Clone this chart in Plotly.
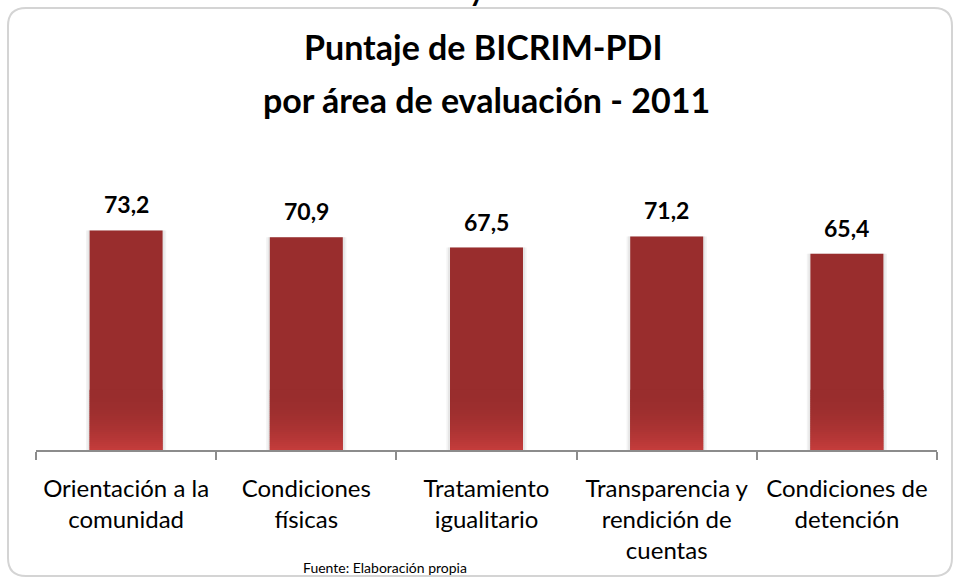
import plotly.graph_objects as go

categories = [
    "Orientación a la<br>comunidad",
    "Condiciones<br>físicas",
    "Tratamiento<br>igualitario",
    "Transparencia y<br>rendición de<br>cuentas",
    "Condiciones de<br>detención",
]
scores = [73.2, 70.9, 67.5, 71.2, 65.4]
title_lines = ["Puntaje de BICRIM-PDI", "por área de evaluación - 2011"]
source_text = "Fuente: Elaboración propia"

W, H = 955, 578
ML, MR, MT, MB = 36, 18, 150, 128
PW, PH = W - ML - MR, H - MT - MB

def px_x(p):
    return (p - ML) / PW

def px_y(p):
    return (H - MB - p) / PH

BAR_W = 0.405
FONT = "Lato"

fig = go.Figure()

# soft shadow layers
for extra, col in [(0.040, "#f3f3f3"), (0.022, "#e6e6e6")]:
    fig.add_trace(go.Bar(x=categories, y=scores, width=BAR_W + extra,
                         marker=dict(color=col, line=dict(width=0)),
                         hoverinfo="skip", showlegend=False))

# main bars
fig.add_trace(go.Bar(x=categories, y=scores, width=BAR_W,
                     marker=dict(color="#992D2D", line=dict(width=0)),
                     showlegend=False))

# gradient band near the base
def lerp(c1, c2, t):
    a = [int(c1[i:i + 2], 16) for i in (1, 3, 5)]
    b = [int(c2[i:i + 2], 16) for i in (1, 3, 5)]
    return "#" + "".join(f"{round(a[k] + (b[k] - a[k]) * t):02x}" for k in range(3))

n_steps = 30
band = 20.0
step = band / n_steps
for i in range(n_steps):
    s = i / (n_steps - 1)
    t = 1 - (1 - s) ** 2
    col = lerp("#C43C3B", "#992D2D", t)
    fig.add_trace(go.Bar(x=categories, y=[step + 0.06] * len(categories),
                         base=[i * step] * len(categories), width=BAR_W,
                         marker=dict(color=col, line=dict(width=0)),
                         hoverinfo="skip", showlegend=False))

# value labels
for c, v in zip(categories, scores):
    fig.add_annotation(x=c, y=v, text=f"<b>{v:.1f}</b>".replace(".", ","),
                       showarrow=False, yanchor="bottom", yshift=10,
                       font=dict(family=FONT, size=23, color="#000000"))

# title
fig.add_annotation(x=px_x(483), y=px_y(46), xref="paper", yref="paper",
                   text=f"<b>{title_lines[0]}</b>", showarrow=False,
                   xanchor="center", yanchor="middle",
                   font=dict(family=FONT, size=34, color="#000000"))
fig.add_annotation(x=px_x(486), y=px_y(100), xref="paper", yref="paper",
                   text=f"<b>{title_lines[1]}</b>", showarrow=False,
                   xanchor="center", yanchor="middle",
                   font=dict(family=FONT, size=34, color="#000000"))

# source
fig.add_annotation(x=px_x(385), y=px_y(567), xref="paper", yref="paper",
                   text=source_text, showarrow=False,
                   xanchor="center", yanchor="middle",
                   font=dict(family=FONT, size=14, color="#000000"))

# clipped glyph at the very top (only its tail shows)
fig.add_annotation(x=px_x(477), y=px_y(9), xref="paper", yref="paper",
                   text="<b>y</b>", showarrow=False,
                   xanchor="center", yanchor="bottom",
                   font=dict(family=FONT, size=30, color="#000000"))

# rounded frame
x0, y0, x1, y1, r = px_x(8), px_y(8), px_x(952), px_y(576), 18
rx, ry = r / PW, r / PH
path = (f"M {x0 + rx} {y0} L {x1 - rx} {y0} Q {x1} {y0} {x1} {y0 - ry} "
        f"L {x1} {y1 + ry} Q {x1} {y1} {x1 - rx} {y1} "
        f"L {x0 + rx} {y1} Q {x0} {y1} {x0} {y1 + ry} "
        f"L {x0} {y0 - ry} Q {x0} {y0} {x0 + rx} {y0} Z")
fig.add_shape(type="path", path=path, xref="paper", yref="paper",
              line=dict(color="#d4d4d4", width=2), fillcolor="rgba(0,0,0,0)",
              layer="below")

fig.update_layout(
    width=W, height=H,
    margin=dict(l=ML, r=MR, t=MT, b=MB, pad=0),
    paper_bgcolor="#ffffff", plot_bgcolor="#ffffff",
    barmode="overlay",
    showlegend=False,
    xaxis=dict(
        type="category", showline=True, linecolor="#8c8c8c", linewidth=2,
        ticks="outside", tickson="boundaries", ticklen=8, tickwidth=2,
        tickcolor="#8c8c8c", showgrid=False, zeroline=False,
        tickfont=dict(family=FONT, size=24, color="#000000"),
        ticklabelstandoff=16,
    ),
    yaxis=dict(range=[0, 100], visible=False, showgrid=False, zeroline=False),
)

fig.write_html(
    "out.html",
    config={"displayModeBar": False},
    post_script="document.body.style.margin='0';document.body.style.overflow='hidden';",
)
